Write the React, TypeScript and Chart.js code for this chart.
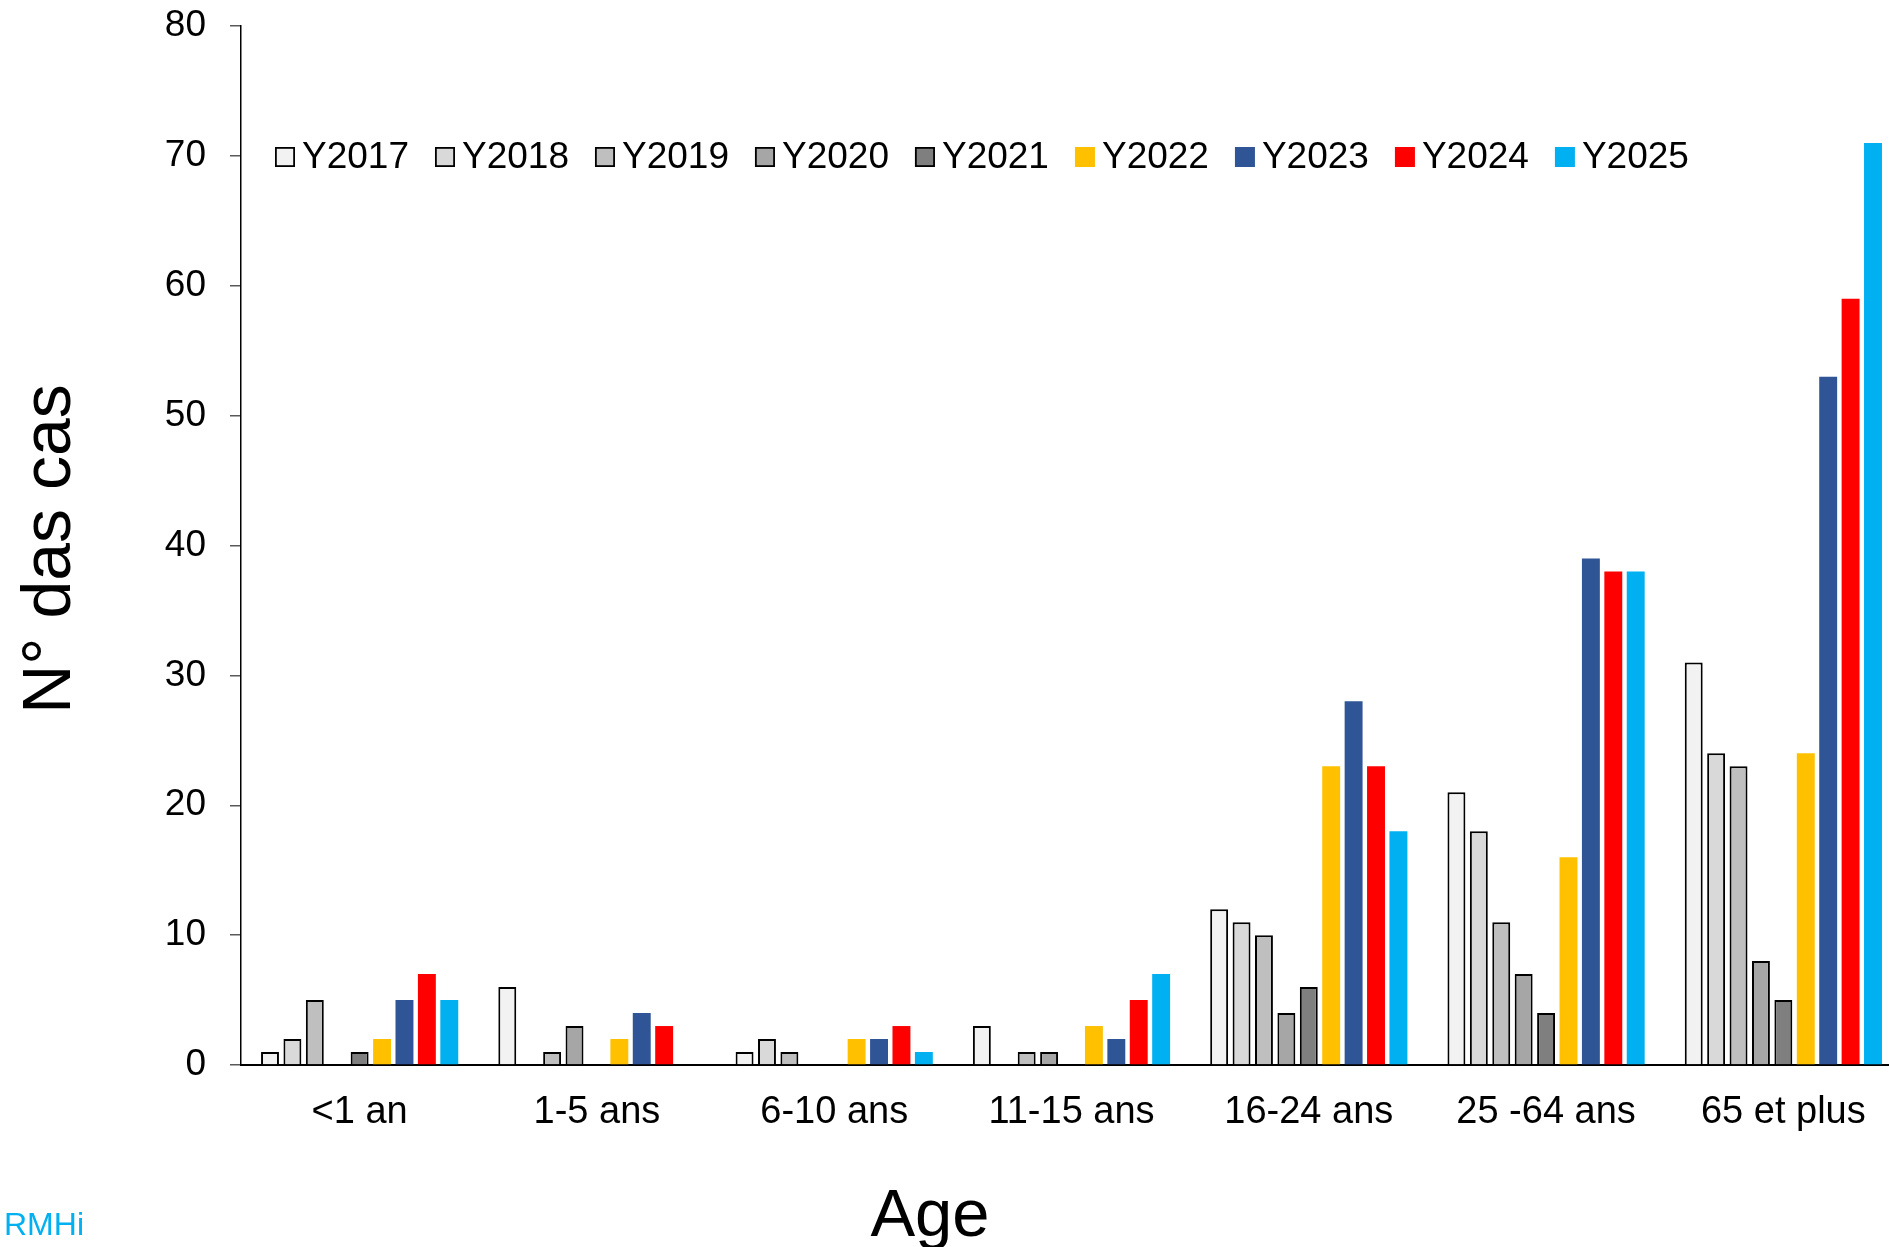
import { useEffect, useRef } from "react";
import { Chart, registerables } from "chart.js";

Chart.register(...registerables);

// Age groups on the x axis
const ageGroups = ["<1 an", "1-5 ans", "6-10 ans", "11-15 ans", "16-24 ans", "25 -64 ans", "65 et plus"];

// Yearly case counts per age group
const y2017 = [1, 6, 1, 3, 12, 21, 31];
const y2018 = [2, 0, 2, 0, 11, 18, 24];
const y2019 = [5, 1, 1, 1, 10, 11, 23];
const y2020 = [0, 3, 0, 1, 4, 7, 8];
const y2021 = [1, 0, 0, 0, 6, 4, 5];
const y2022 = [2, 2, 2, 3, 23, 16, 24];
const y2023 = [5, 4, 2, 2, 28, 39, 53];
const y2024 = [7, 3, 3, 5, 23, 38, 59];
const y2025 = [5, 0, 1, 7, 18, 38, 71];

const yearLabels = ["Y2017", "Y2018", "Y2019", "Y2020", "Y2021", "Y2022", "Y2023", "Y2024", "Y2025"];
const yearValues = [y2017, y2018, y2019, y2020, y2021, y2022, y2023, y2024, y2025];
const yearColors = ["#F2F2F2", "#D9D9D9", "#BFBFBF", "#A6A6A6", "#7F7F7F", "#FFC000", "#2F5597", "#FF0000", "#00B0F0"];
const yearOutlined = [true, true, true, true, true, false, false, false, false];

const yMin = 0;
const yMax = 80;
const yStep = 10;

const FONT = "'Liberation Sans', Arial, sans-serif";

// Legend row and free-standing titles drawn on top of the chart
const overlayPlugin = {
  id: "overlayText",
  afterDraw(chart: any) {
    const ctx: CanvasRenderingContext2D = chart.ctx;
    ctx.save();

    // legend inside the plot area
    ctx.font = `37px ${FONT}`;
    ctx.textBaseline = "middle";
    ctx.textAlign = "left";
    const box = 20;
    const cy = 157;
    let x = 275;
    chart.data.datasets.forEach((ds: any, i: number) => {
      ctx.fillStyle = ds.backgroundColor;
      ctx.fillRect(x, cy - box / 2, box, box);
      if (yearOutlined[i]) {
        ctx.strokeStyle = "#000";
        ctx.lineWidth = 1.8;
        ctx.strokeRect(x + 0.9, cy - box / 2 + 0.9, box - 1.8, box - 1.8);
      }
      ctx.fillStyle = "#000";
      ctx.fillText(ds.label, x + 27, cy + 1);
      x += 27 + ctx.measureText(ds.label).width + 26;
    });

    // y axis title
    ctx.save();
    ctx.translate(70, 549);
    ctx.rotate(-Math.PI / 2);
    ctx.font = `68px ${FONT}`;
    ctx.textAlign = "center";
    ctx.textBaseline = "alphabetic";
    ctx.fillStyle = "#000";
    ctx.fillText("N° das cas", 0, 0);
    ctx.restore();

    // x axis title
    ctx.font = `67px ${FONT}`;
    ctx.textAlign = "center";
    ctx.textBaseline = "alphabetic";
    ctx.fillStyle = "#000";
    ctx.fillText("Age", 930, 1236);

    // source tag
    ctx.font = `32px ${FONT}`;
    ctx.textAlign = "left";
    ctx.fillStyle = "#00B0F0";
    ctx.fillText("RMHi", 4, 1235);

    ctx.restore();
  },
};

export default function App() {
  const canvasRef = useRef<HTMLCanvasElement | null>(null);

  useEffect(() => {
    document.body.style.margin = "0";
    document.body.style.overflow = "hidden";
    const canvas = canvasRef.current;
    if (!canvas) return;

    const chart = new Chart(canvas, {
      type: "bar",
      data: {
        labels: ageGroups,
        datasets: yearLabels.map((label, i) => ({
          label,
          data: yearValues[i],
          backgroundColor: yearColors[i],
          borderColor: yearOutlined[i] ? "#000000" : yearColors[i],
          borderWidth: yearOutlined[i] ? 2 : 0,
          borderSkipped: "bottom" as const,
          barPercentage: 0.8,
          categoryPercentage: 0.85,
        })),
      },
      options: {
        responsive: false,
        animation: false,
        events: [],
        layout: { padding: { left: 0, top: 26, right: 8, bottom: 0 } },
        plugins: {
          legend: { display: false },
          tooltip: { enabled: false },
          title: { display: false },
        },
        scales: {
          x: {
            offset: true,
            grid: { display: false, drawTicks: false },
            border: { display: true, color: "#000000", width: 2 },
            ticks: {
              color: "#000000",
              font: { family: FONT, size: 38 },
              padding: 25,
              maxRotation: 0,
              autoSkip: false,
            },
            afterFit(scale: any) {
              scale.height = 182;
            },
          },
          y: {
            min: yMin,
            max: yMax,
            grid: {
              display: true,
              drawOnChartArea: false,
              drawTicks: true,
              tickLength: 11,
              color: "#595959",
              lineWidth: 1.5,
            },
            border: { display: true, color: "#000000", width: 1.5 },
            ticks: {
              stepSize: yStep,
              color: "#000000",
              font: { family: FONT, size: 37 },
              padding: 24,
            },
            afterFit(scale: any) {
              scale.width = 241;
              scale.paddingTop = 0;
              scale.paddingBottom = 0;
            },
          },
        },
      },
      plugins: [overlayPlugin],
    });

    return () => chart.destroy();
  }, []);

  return (
    <div style={{ width: 1889, height: 1247, overflow: "hidden", position: "relative", background: "#fff" }}>
      <canvas ref={canvasRef} width={1910} height={1247} style={{ display: "block", width: 1910, height: 1247 }} />
    </div>
  );
}
